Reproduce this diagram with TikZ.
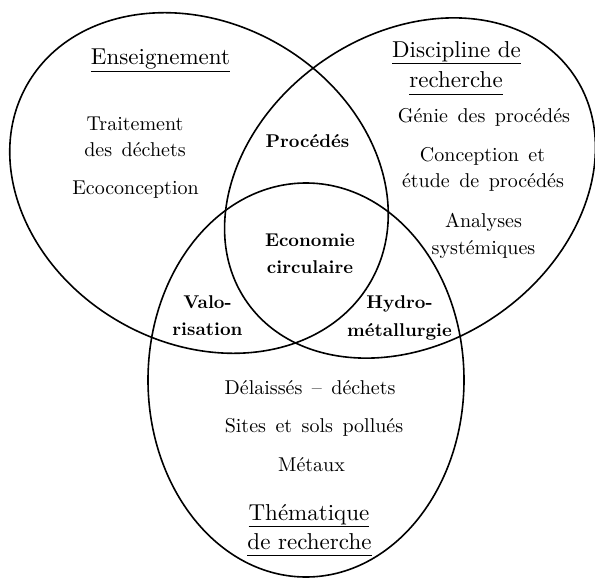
\documentclass[tikz,border=0pt]{standalone}
\usepackage{fontspec}
\setmainfont{lmroman10-regular.otf}[BoldFont=lmroman10-bold.otf, ItalicFont=lmroman10-italic.otf]
\newcommand{\mybodyfont}{\fontsize{20}{24}\selectfont\spaceskip=9.5pt plus 1pt minus 1pt\relax}
\tikzset{
  venn/.style={line width=1.6pt},
  body/.style={font=\mybodyfont, inner sep=0pt, anchor=base},
  boldlbl/.style={font=\fontsize{18.5}{22}\selectfont\bfseries, inner sep=0pt, anchor=base},
  head/.style={font=\fontsize{23}{28}\selectfont, inner sep=0pt, anchor=base},
}
\newcommand{\hdul}[1]{\underline{\vphantom{q}#1}}
\begin{document}
\begin{tikzpicture}[x=1pt,y=-1pt]
\useasboundingbox (0,0) rectangle (595,578);
% ellipses
\draw[venn, rotate around={-30:(199,183)}] (199,183) ellipse [x radius=198pt, y radius=160pt];
\draw[venn, rotate around={35:(410,188)}] (410,188) ellipse [x radius=199pt, y radius=154pt];
\draw[venn] (306,380) ellipse [x radius=158pt, y radius=197pt];
% Enseignement
\node[head] (ens) at (160.5,65) {\hdul{Enseignement}};
\node[body] (tr1) at (135,130) {Traitement};
\node[body] (tr2) at (135,157) {des déchets};
\node[body] (eco) at (135.5,194) {Ecoconception};
% Discipline de recherche
\node[head] (dis1) at (456.5,57.5) {\hdul{Discipline de}};
\node[head] (dis2) at (456,88) {\hdul{recherche}};
\node[body] (gen) at (484,122) {Génie des procédés};
\node[body] (con1) at (482.5,161) {Conception et};
\node[body] (con2) at (483,187) {étude de procédés};
\node[body] (ana1) at (483.5,227) {Analyses};
\node[body] (ana2) at (483.5,254) {systémiques};
% Intersections
\node[boldlbl] (pro) at (307.5,147) {Procédés};
\node[boldlbl] (ec1) at (310,246) {Economie};
\node[boldlbl] (ec2) at (310,273) {circulaire};
\node[boldlbl] (val1) at (207.5,308) {Valo-};
\node[boldlbl] (val2) at (207.5,335) {risation};
\node[boldlbl] (hyd1) at (399.5,308) {Hydro-};
\node[boldlbl] (hyd2) at (399.5,336) {métallurgie};
% Thematique
\node[body] (del) at (310,394) {Délaissés \textendash{} déchets};
\node[body] (sit) at (314,432) {Sites et sols pollués};
\node[body] (met) at (311.5,471) {Métaux};
\node[head] (the1) at (309,520) {\hdul{Thématique}};
\node[head] (the2) at (309.5,549) {\hdul{de recherche}};
\end{tikzpicture}
\end{document}
